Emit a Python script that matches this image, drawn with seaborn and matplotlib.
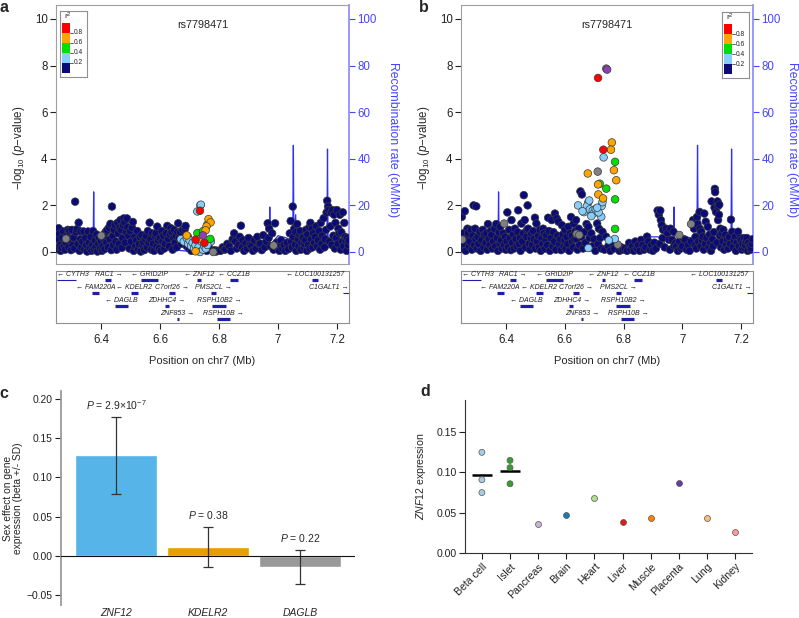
import numpy as np
import pandas as pd
import matplotlib
matplotlib.use("Agg")
import matplotlib.pyplot as plt
import seaborn as sns
from matplotlib.patches import Rectangle

sns.set_theme(style="white")
plt.rcParams['font.family'] = ['Liberation Sans', 'DejaVu Sans']
plt.rcParams['mathtext.fontset'] = 'custom'
plt.rcParams['mathtext.rm'] = 'Liberation Sans'
plt.rcParams['mathtext.it'] = 'Liberation Sans:italic'
plt.rcParams['mathtext.bf'] = 'Liberation Sans:bold'

# ---------------- data: locus zoom ----------------
lead_snp = "rs7798471"
ld_classes = ["navy", "gray", "lightblue", "green", "orange", "red", "index"]
ld_palette = {"navy": "#0B0B78", "gray": "#808080", "lightblue": "#87CEFA",
              "green": "#00E000", "orange": "#FFA500", "red": "#FF0000", "index": "#8E3FB8"}
r2_legend_colors = ["#FF0000", "#FFA500", "#00E000", "#87CEFA", "#0B0B78"]
r2_breaks = ["0.8", "0.6", "0.4", "0.2"]

a_navy = [(6.251,0.12),(6.253,0.55),(6.255,1.02),(6.257,0.78),(6.26,0.30),(6.262,0.05),(6.265,0.18),(6.268,0.62),
 (6.271,0.88),(6.274,0.25),(6.277,0.10),(6.280,0.40),(6.283,0.70),(6.286,0.95),(6.289,0.20),(6.292,0.92),(6.295,0.50),
 (6.297,0.08),(6.300,0.95),(6.303,0.30),(6.306,0.62),(6.309,0.15),(6.311,2.16),(6.314,0.85),(6.317,0.98),(6.320,0.35),
 (6.323,1.26),(6.326,0.05),(6.329,0.55),(6.330,0.88),(6.333,0.20),(6.336,0.45),(6.340,0.88),(6.343,0.12),(6.346,0.60),
 (6.349,0.30),(6.352,0.02),(6.355,0.88),(6.358,0.40),(6.361,0.15),(6.364,0.65),(6.367,0.05),(6.370,0.30),(6.372,0.90),
 (6.375,0.12),(6.378,0.50),(6.381,0.22),(6.384,0.75),(6.387,0.02),(6.390,0.35),(6.393,0.60),(6.396,0.15),(6.399,0.45),
 (6.402,0.05),(6.405,0.25),(6.408,0.60),(6.411,0.12),(6.414,0.85),(6.417,0.40),(6.420,0.95),(6.423,0.20),(6.426,1.05),
 (6.429,0.55),(6.431,1.21),(6.434,0.08),(6.436,1.95),(6.439,0.70),(6.441,0.30),(6.443,0.95),(6.446,1.16),(6.449,0.45),
 (6.452,0.10),(6.455,1.25),(6.457,0.80),(6.460,0.35),(6.462,1.05),(6.465,1.37),(6.468,0.95),(6.470,0.18),(6.472,0.60),
 (6.474,1.15),(6.476,1.44),(6.479,1.26),(6.481,0.40),(6.484,0.85),(6.487,1.44),(6.489,1.06),(6.492,0.70),(6.495,0.15),
 (6.498,0.90),(6.501,0.45),(6.504,1.05),(6.507,1.29),(6.510,0.05),(6.513,0.65),(6.516,0.25),(6.519,0.50),(6.522,0.90),
 (6.525,0.12),(6.528,0.35),(6.531,0.65),(6.534,0.02),(6.537,0.73),(6.540,0.30),(6.543,0.43),(6.546,0.08),(6.549,0.55),
 (6.552,0.69),(6.555,0.20),(6.558,0.90),(6.561,0.40),(6.564,1.26),(6.567,0.55),(6.570,0.10),(6.573,0.80),(6.576,0.35),
 (6.579,0.05),(6.582,0.70),(6.585,0.80),(6.588,0.25),(6.590,1.09),(6.593,0.50),(6.596,0.15),(6.599,0.60),(6.602,0.05),
 (6.605,0.90),(6.608,0.45),(6.611,0.70),(6.614,0.15),(6.617,0.35),(6.620,0.80),(6.624,1.12),(6.627,0.55),(6.630,0.25),
 (6.633,0.75),(6.636,1.02),(6.639,0.85),(6.642,0.10),(6.645,0.60),(6.647,0.95),(6.650,0.40),(6.653,0.70),(6.656,0.20),
 (6.659,0.85),(6.661,1.23),(6.664,0.60),(6.668,0.85),(6.672,0.35),(6.676,0.95),(6.680,0.50),(6.684,1.00),(6.686,1.12),
 (6.690,0.25),(6.694,0.65),(6.698,0.15),(6.702,0.40),(6.706,0.05),(6.712,0.30),(6.718,0.10),(6.728,0.12),(6.742,0.25),
 (6.758,0.05),(6.765,0.20),(6.785,0.08),(6.790,0.02),(6.795,0.05),(6.805,0.05),(6.812,0.20),(6.818,0.10),(6.822,0.12),
 (6.828,0.35),(6.834,0.24),(6.840,0.05),(6.846,0.55),(6.851,0.80),(6.855,0.45),(6.860,0.15),(6.866,0.30),(6.870,0.65),
 (6.874,1.13),(6.878,0.20),(6.880,0.50),(6.885,0.05),(6.890,0.37),(6.895,0.15),(6.900,0.60),(6.905,0.30),(6.910,0.25),
 (6.915,0.05),(6.920,0.50),(6.925,0.15),(6.930,0.65),(6.935,0.35),(6.940,0.36),(6.945,0.08),(6.950,0.72),(6.955,0.20),
 (6.960,0.45),(6.965,1.23),(6.968,0.60),(6.970,1.00),(6.975,0.25),(6.980,0.80),(6.985,0.10),(6.990,1.23),(6.995,0.40),
 (7.000,0.20),(7.005,0.05),(7.010,0.50),(7.015,0.15),(7.020,0.30),(7.025,0.05),(7.030,0.40),(7.035,0.12),(7.040,0.80),
 (7.043,1.33),(7.045,0.45),(7.048,0.20),(7.050,1.95),(7.052,0.65),(7.055,1.00),(7.058,0.30),(7.060,0.85),(7.062,0.05),
 (7.065,1.20),(7.068,0.55),(7.070,0.25),(7.073,0.75),(7.075,0.90),(7.078,0.10),(7.080,0.40),(7.083,0.65),(7.085,0.60),
 (7.088,0.20),(7.090,0.35),(7.093,0.50),(7.095,0.95),(7.098,0.05),(7.100,0.75),(7.103,0.30),(7.106,1.05),(7.108,0.15),
 (7.110,1.25),(7.113,0.55),(7.115,1.00),(7.118,0.20),(7.120,0.80),(7.123,0.40),(7.126,0.65),(7.130,1.10),(7.133,0.25),
 (7.136,0.50),(7.140,0.90),(7.143,0.10),(7.145,1.25),(7.148,0.35),(7.150,0.70),(7.155,1.45),(7.158,0.20),(7.160,0.55),
 (7.163,0.95),(7.165,1.70),(7.167,2.20),(7.170,1.95),(7.172,1.80),(7.175,0.45),(7.178,1.10),(7.180,1.70),(7.183,0.30),
 (7.185,1.80),(7.188,0.70),(7.190,1.60),(7.193,0.15),(7.195,1.25),(7.198,0.60),(7.200,1.80),(7.203,0.35),(7.205,1.00),
 (7.208,0.80),(7.210,1.60),(7.213,0.10),(7.215,0.85),(7.218,0.45),(7.220,1.70),(7.223,0.25),(7.225,1.25),(7.228,0.65),
 (7.230,0.50),(7.233,0.05),(7.235,0.60),(7.238,0.30),(7.240,0.50)]
a_gray = [(6.280,0.57),(6.400,0.70),(6.780,0.00),(6.985,0.28)]
a_lightblue = [(6.736,2.00),(6.738,2.03),(6.726,1.74),(6.670,0.55),(6.680,0.45),(6.690,0.60),(6.695,0.35),(6.700,0.50),
 (6.705,0.25),(6.710,0.40),(6.715,0.15),(6.720,0.30),(6.725,0.05),(6.730,0.20),(6.735,0.00),(6.740,0.45),(6.745,0.10),
 (6.750,0.25),(6.755,0.15),(6.772,0.45),(6.760,0.30)]
a_green = [(6.760,1.18),(6.726,0.81),(6.745,0.89),(6.770,0.56)]
a_orange = [(6.764,1.41),(6.771,1.27),(6.757,1.10),(6.754,0.93),(6.720,0.03),(6.735,0.56),(6.690,0.71)]
a_red = [(6.735,1.77),(6.720,0.53),(6.750,0.39)]
a_index = [(6.745,0.71)]

b_navy = [(6.249,1.51),(6.251,0.15),(6.254,0.80),(6.256,0.35),(6.259,1.75),(6.262,0.05),(6.265,0.60),(6.268,1.00),
 (6.270,0.80),(6.273,0.25),(6.276,0.45),(6.280,0.95),(6.283,0.10),(6.286,0.70),(6.289,2.00),(6.291,0.30),(6.294,1.00),
 (6.296,0.55),(6.298,1.96),(6.300,0.15),(6.303,0.65),(6.306,0.35),(6.310,0.87),(6.313,0.05),(6.316,0.50),(6.320,0.95),
 (6.323,0.20),(6.326,0.75),(6.330,0.40),(6.333,0.80),(6.336,0.10),(6.338,1.20),(6.341,0.55),(6.344,0.30),(6.347,0.90),
 (6.350,0.73),(6.353,0.15),(6.356,0.45),(6.360,1.00),(6.363,0.25),(6.366,1.20),(6.369,0.60),(6.372,0.05),(6.375,0.85),
 (6.378,0.35),(6.380,1.08),(6.383,0.50),(6.386,0.15),(6.390,0.80),(6.393,0.30),(6.396,0.65),(6.399,0.10),(6.402,0.45),
 (6.404,1.70),(6.407,0.20),(6.410,0.95),(6.413,0.60),(6.416,0.08),(6.418,1.37),(6.421,0.40),(6.424,0.75),(6.427,0.15),
 (6.430,1.00),(6.433,0.55),(6.436,0.25),(6.439,0.85),(6.441,1.79),(6.444,0.35),(6.447,0.60),(6.449,0.05),(6.452,1.22),
 (6.455,0.45),(6.458,0.80),(6.460,2.44),(6.463,1.37),(6.466,0.20),(6.469,0.65),(6.471,0.95),(6.473,2.00),(6.475,1.00),
 (6.478,0.35),(6.481,0.10),(6.484,0.60),(6.486,0.80),(6.489,0.30),(6.492,0.90),(6.495,0.55),(6.498,1.47),(6.500,0.15),
 (6.503,1.22),(6.506,0.45),(6.509,0.70),(6.512,0.20),(6.515,0.95),(6.518,0.05),(6.521,0.60),(6.524,0.35),(6.526,1.00),
 (6.529,0.80),(6.532,0.15),(6.535,0.50),(6.537,0.73),(6.540,0.30),(6.543,1.47),(6.546,0.90),(6.549,0.05),(6.552,0.60),
 (6.555,1.37),(6.558,0.25),(6.561,0.85),(6.564,0.45),(6.566,1.65),(6.569,0.10),(6.572,1.44),(6.575,0.70),(6.578,1.30),
 (6.581,0.35),(6.584,0.55),(6.587,0.08),(6.590,1.15),(6.593,0.75),(6.596,0.25),(6.599,0.50),(6.600,0.95),(6.603,0.15),
 (6.606,0.65),(6.609,0.35),(6.612,1.08),(6.615,0.05),(6.618,0.80),(6.621,1.50),(6.624,0.45),(6.625,0.70),(6.628,0.20),
 (6.630,1.22),(6.633,0.55),(6.636,0.90),(6.638,1.37),(6.640,0.56),(6.643,0.10),(6.647,1.00),(6.650,0.30),(6.653,2.60),
 (6.656,0.65),(6.658,2.47),(6.662,0.15),(6.666,0.85),(6.670,0.40),(6.674,1.20),(6.680,1.08),(6.684,0.60),(6.690,0.80),
 (6.694,0.25),(6.700,0.55),(6.704,0.05),(6.710,1.22),(6.713,0.35),(6.716,1.00),(6.720,0.60),(6.724,0.15),(6.728,0.87),
 (6.735,0.10),(6.740,0.66),(6.748,0.25),(6.755,0.05),(6.762,0.40),(6.768,0.15),(6.786,0.05),(6.792,0.20),(6.798,0.10),
 (6.805,0.15),(6.812,0.05),(6.819,0.39),(6.824,0.10),(6.830,0.25),(6.835,0.05),(6.840,0.45),(6.845,0.15),(6.850,0.30),
 (6.855,0.05),(6.860,0.52),(6.865,0.30),(6.870,0.10),(6.875,0.20),(6.880,0.66),(6.885,0.45),(6.890,0.10),(6.895,0.30),
 (6.900,0.05),(6.905,0.40),(6.910,0.15),(6.916,1.78),(6.920,1.60),(6.923,0.35),(6.925,1.78),(6.927,1.37),(6.930,1.15),
 (6.933,0.60),(6.935,0.95),(6.940,0.20),(6.945,1.00),(6.950,0.80),(6.955,0.52),(6.958,0.10),(6.960,1.00),(6.965,0.52),
 (6.970,0.87),(6.972,0.25),(6.977,0.39),(6.980,0.25),(6.985,0.05),(6.990,0.45),(6.995,0.15),(7.000,0.25),(7.005,0.55),
 (7.010,0.52),(7.015,0.10),(7.020,0.30),(7.025,0.05),(7.030,0.45),(7.037,1.37),(7.040,1.00),(7.043,0.30),(7.045,0.65),
 (7.048,0.15),(7.050,1.50),(7.052,1.20),(7.055,0.45),(7.059,1.72),(7.060,1.00),(7.063,0.25),(7.065,0.87),(7.068,0.50),
 (7.070,0.66),(7.073,0.10),(7.075,1.65),(7.078,0.35),(7.080,1.30),(7.083,0.60),(7.087,1.08),(7.090,0.20),(7.093,0.75),
 (7.096,0.40),(7.098,0.05),(7.100,2.17),(7.103,0.55),(7.105,0.25),(7.108,0.85),(7.110,1.90),(7.111,2.71),(7.112,2.57),
 (7.115,1.72),(7.118,0.40),(7.120,2.17),(7.121,1.96),(7.122,1.37),(7.125,1.60),(7.126,2.03),(7.128,0.70),(7.130,1.00),
 (7.132,0.20),(7.135,0.80),(7.138,0.45),(7.140,0.95),(7.143,0.10),(7.147,0.73),(7.150,0.30),(7.153,0.55),(7.156,0.15),
 (7.160,0.65),(7.163,0.35),(7.166,1.39),(7.170,0.87),(7.173,0.20),(7.176,0.50),(7.180,0.66),(7.183,0.05),(7.186,0.40),
 (7.190,0.87),(7.193,0.25),(7.196,0.60),(7.200,0.52),(7.203,0.10),(7.206,0.35),(7.210,0.60),(7.213,0.15),(7.215,0.30),
 (7.218,0.45),(7.220,0.60),(7.223,0.05),(7.226,0.40),(7.230,0.25),(7.233,0.10),(7.235,0.18),(7.238,0.35),(7.240,0.55)]
b_gray = [(6.741,7.87),(6.712,3.45),(6.780,0.32),(6.640,0.78),(6.250,0.53),(6.393,1.22),(6.990,0.73),(7.030,1.20),(6.649,0.73)]
b_lightblue = [(6.645,2.00),(6.680,2.14),(6.675,1.97),(6.665,1.71),(6.685,1.83),(6.695,1.78),(6.700,1.68),(6.690,1.54),
 (6.725,1.97),(6.728,2.14),(6.724,1.51),(6.683,2.21),(6.732,4.06),(6.770,0.56),(6.750,0.50),(6.680,0.17),(6.660,1.75),
 (6.705,1.85),(6.715,1.70),(6.710,1.90)]
b_green = [(6.771,3.87),(6.719,2.93),(6.741,2.72),(6.771,2.26),(6.771,0.99)]
b_orange = [(6.760,4.70),(6.757,4.39),(6.767,3.51),(6.678,3.37),(6.775,3.08),(6.713,2.90),(6.714,2.47),(6.730,2.30)]
b_red = [(6.713,7.47),(6.731,4.39)]
b_index = [(6.744,7.83)]

recomb_pos = [6.244, 6.26, 6.28, 6.30, 6.303, 6.306, 6.31, 6.325, 6.328, 6.331, 6.35, 6.372, 6.374, 6.376, 6.40,
              6.44, 6.47, 6.50, 6.53, 6.56, 6.60, 6.64, 6.68, 6.72, 6.76, 6.80, 6.84, 6.87, 6.93, 6.95, 6.97, 6.972,
              6.974, 7.00, 7.03, 7.045, 7.05, 7.052, 7.054, 7.06, 7.062, 7.09, 7.12, 7.14, 7.16, 7.166, 7.168, 7.17,
              7.19, 7.22, 7.241]
recomb_rate = [2, 3, 1, 2, 8, 2, 1, 2, 11, 1, 2, 1, 25.8, 2, 1, 2, 1, 2, 3, 1, 0.5, 1, 0.5, 0.3, 0.5, 0.8, 2, 6.5,
               6.5, 1, 2, 19.3, 3, 7, 6, 4, 7, 45.8, 6, 16, 5, 3, 5, 3, 2, 4, 44.2, 2, 3, 2, 1]

gene_names = ["CYTH3", "RAC1", "GRID2IP", "ZNF12", "CCZ1B", "LOC100131257", "FAM220A", "KDELR2", "C7orf26",
              "PMS2CL", "C1GALT1", "DAGLB", "ZDHHC4", "RSPH10B2", "ZNF853", "RSPH10B"]
gene_start = [6.249, 6.414, 6.536, 6.726, 6.837, 7.114, 6.368, 6.501, 6.629, 6.773, 7.220, 6.448, 6.615, 6.775, 6.656, 6.792]
gene_end = [6.314, 6.433, 6.592, 6.737, 6.864, 7.137, 6.391, 6.524, 6.649, 6.791, 7.245, 6.490, 6.629, 6.823, 6.662, 6.837]
gene_strand = ["-", "+", "-", "-", "-", "-", "-", "-", "+", "+", "+", "-", "+", "+", "+", "+"]
gene_row = [0, 0, 0, 0, 0, 0, 1, 1, 1, 1, 1, 2, 2, 2, 3, 3]

pos_ticks = [6.4, 6.6, 6.8, 7.0, 7.2]
pos_ticklabels = ["6.4", "6.6", "6.8", "7", "7.2"]

# ---------------- data: panel c ----------------
c_genes = ["ZNF12", "KDELR2", "DAGLB"]
c_beta = [0.128, 0.011, -0.014]
c_sd = [0.049, 0.0255, 0.0215]
c_p = [r"$P$ = 2.9×10$^{-7}$", r"$P$ = 0.38", r"$P$ = 0.22"]
c_colors = ["#56B4E9", "#E69F00", "#999999"]

# ---------------- data: panel d ----------------
d_tissues = ["Beta cell", "Islet", "Pancreas", "Brain", "Heart", "Liver", "Muscle", "Placenta", "Lung", "Kidney"]
d_tissue_of_point = ["Beta cell", "Beta cell", "Beta cell", "Islet", "Islet", "Islet", "Pancreas", "Brain",
                     "Heart", "Liver", "Muscle", "Placenta", "Lung", "Kidney"]
d_values = [0.125, 0.091, 0.075, 0.115, 0.106, 0.086, 0.036, 0.047, 0.068, 0.038, 0.044, 0.087, 0.043, 0.026]
d_colors = ["#A6CEE3", "#33A02C", "#CAB2D6", "#1F78B4", "#B2DF8A", "#E31A1C", "#FF7F00", "#6A3D9A", "#FDBF6F", "#FB9A99"]

# ---------------- figure ----------------
W, H = 799, 618
fig = plt.figure(figsize=(W / 100, H / 100), dpi=100)


def add_px(x0, y0, x1, y1):
    return fig.add_axes([x0 / W, 1 - y1 / H, (x1 - x0) / W, (y1 - y0) / H])


XLIM = (6.246, 7.241)
YLIM = (-0.515, 10.6)
BLUE = "#4545FF"
gene_texts = []


def snp_frame(groups):
    rows = []
    for cls, pts in zip(ld_classes, groups):
        for p, v in pts:
            rows.append({"pos": p, "logp": v, "ld": cls})
    return pd.DataFrame(rows)


def locus_panel(x0, x1, groups, legend_xy, rlab_x):
    ax = add_px(x0, 5, x1, 264)
    ax2 = ax.twinx()
    ax.set_zorder(ax2.get_zorder() + 1)
    ax.patch.set_visible(False)
    ax2.plot(recomb_pos, recomb_rate, color="#2F2FFF", lw=0.9)
    ax2.set_ylim(YLIM[0] * 10, YLIM[1] * 10)
    ax2.set_yticks([0, 20, 40, 60, 80, 100])
    ax2.tick_params(axis="y", colors=BLUE, labelsize=8.3, length=4, width=0.8, pad=2, right=True, direction="out")
    for s in ["left", "top", "bottom"]:
        ax2.spines[s].set_visible(False)
    ax2.spines["right"].set_color("#8C8CFF")
    ax2.set_ylabel("Recombination rate (cM/Mb)", color=BLUE, fontsize=8.8, rotation=-90, va="bottom")
    ax2.yaxis.set_label_coords(rlab_x, 0.48)

    df = snp_frame(groups)
    sns.scatterplot(data=df, x="pos", y="logp", hue="ld", palette=ld_palette, hue_order=ld_classes,
                    s=30, edgecolor="#3A3A3A", linewidth=0.5, legend=False, ax=ax, zorder=3)
    ax.set_xlim(XLIM)
    ax2.set_xlim(XLIM)
    ax.set_ylim(YLIM)
    ax.set_yticks([0, 2, 4, 6, 8, 10])
    ax.set_xticks([])
    ax.set_xlabel("")
    ax.tick_params(axis="y", labelsize=8.3, length=4, width=0.8, left=True, colors="#222222", pad=2)
    for s in ["left", "top", "bottom"]:
        ax.spines[s].set_color("#A0A0A0")
        ax.spines[s].set_linewidth(0.8)
    ax.spines["right"].set_visible(False)
    ax.set_ylabel(r"$-$log$_{10}$ ($p$$-$value)", fontsize=8.3)
    ax.yaxis.set_label_coords(-0.099, 0.45)
    idx_pos = groups[-1][0][0]
    ax.text(idx_pos, 9.74, lead_snp, ha="center", va="center", fontsize=7.8)

    # r2 legend
    lx, ly = legend_xy
    lax = add_px(lx, ly, lx + 27, ly + 66)
    lax.set_xlim(0, 27)
    lax.set_ylim(66, 0)
    lax.set_xticks([])
    lax.set_yticks([])
    for s in lax.spines.values():
        s.set_color("#909090")
        s.set_linewidth(0.8)
    for i, c in enumerate(r2_legend_colors):
        lax.add_patch(Rectangle((1.5, 12 + 10 * i), 8, 10, fc=c, ec="none"))
    for i, lab in enumerate(r2_breaks):
        yy = 22 + 10 * i
        lax.plot([9.5, 12.5], [yy, yy], color="#444444", lw=0.6)
        lax.text(13.5, yy, lab, fontsize=4.8, va="center", ha="left", color="#222222")
    lax.text(8, 5.5, "r$^2$", fontsize=6, ha="center", va="center")

    # gene track
    g = add_px(x0, 271, x1, 323)
    g.set_xlim(XLIM)
    g.set_ylim(0, 52)
    bar_y = [43, 30, 17, 4]
    lab_y = [48.5, 35.5, 22, 9.5]
    for name, s, e, strand, row in zip(gene_names, gene_start, gene_end, gene_strand, gene_row):
        thick = (e - s) < 0.06 and e <= XLIM[1]
        g.plot([max(s, XLIM[0]), min(e, XLIM[1])], [bar_y[row], bar_y[row]], color="#1E1EA8",
               lw=2.3 if thick else 0.8, solid_capstyle="butt")
        label = "\u2190 " + name if strand == "-" else name + " \u2192"
        t = g.text((s + e) / 2, lab_y[row], label, ha="center", va="center", fontsize=5,
                   style="italic", color="#222222")
        gene_texts.append((g, t))
    g.set_yticks([])
    g.set_xticks(pos_ticks)
    g.set_xticklabels(pos_ticklabels)
    g.tick_params(axis="x", labelsize=8.3, length=4, width=0.8, bottom=True, colors="#222222", pad=4)
    for s in g.spines.values():
        s.set_color("#909090")
        s.set_linewidth(0.8)
    g.set_xlabel("Position on chr7 (Mb)", fontsize=8, labelpad=7)
    return ax


locus_panel(56, 349, [a_navy, a_gray, a_lightblue, a_green, a_orange, a_red, a_index], (60, 11), 1.13)
locus_panel(461, 753, [b_navy, b_gray, b_lightblue, b_green, b_orange, b_red, b_index], (722, 12), 1.113)

# ---------------- panel c ----------------
axc = add_px(61, 391, 355, 605)
sns.barplot(x=c_genes, y=c_beta, hue=c_genes, palette=c_colors, width=0.89, legend=False,
            saturation=1, errorbar=None, ax=axc, zorder=2)
axc.errorbar(x=np.arange(len(c_genes)), y=c_beta, yerr=c_sd, fmt="none", ecolor="#333333",
             elinewidth=0.9, capsize=3.5, capthick=0.9, zorder=3)
for i, (b, sd, p) in enumerate(zip(c_beta, c_sd, c_p)):
    axc.text(i, b + sd + 0.015, p, ha="center", va="center", fontsize=7.5)
axc.axhline(0, color="#111111", lw=0.8, zorder=4)
axc.set_xlim(-0.6, 2.6)
axc.set_ylim(-0.0625, 0.21)
axc.set_yticks([-0.05, 0.0, 0.05, 0.10, 0.15, 0.20])
axc.set_yticklabels(["\u22120.05", "0.00", "0.05", "0.10", "0.15", "0.20"])
for s in ["top", "right", "bottom"]:
    axc.spines[s].set_visible(False)
axc.spines["left"].set_color("#9A9A9A")
axc.spines["left"].set_linewidth(1.3)
axc.tick_params(axis="y", labelsize=7.4, length=4, width=0.8, left=True, colors="#222222", pad=2)
axc.tick_params(axis="x", labelsize=7.5, length=0, pad=2)
for lbl in axc.get_xticklabels():
    lbl.set_style("italic")
axc.set_ylabel("Sex effect on gene\nexpression (beta +/- SD)", fontsize=7.4, linespacing=1.0)
axc.yaxis.set_label_coords(-0.128, 0.5)

# ---------------- panel d ----------------
axd = add_px(465, 400, 752, 553)
df_d = pd.DataFrame({"tissue": d_tissue_of_point, "value": d_values})
means = df_d.groupby("tissue", sort=False)["value"].agg(["mean", "count"])
for i, t in enumerate(d_tissues):
    if t in means.index and means.loc[t, "count"] > 1:
        axd.hlines(means.loc[t, "mean"], i - 0.36, i + 0.36, color="black", lw=1.8, zorder=1)
sns.stripplot(data=df_d, x="tissue", y="value", hue="tissue", order=d_tissues, hue_order=d_tissues,
              palette=d_colors, jitter=False, size=4.3, linewidth=0.5, edgecolor="#555555",
              legend=False, ax=axd, zorder=3)
axd.set_xlim(-0.6, 9.6)
axd.set_ylim(0, 0.19)
axd.set_yticks([0.0, 0.05, 0.10, 0.15])
axd.set_yticklabels(["0.00", "0.05", "0.10", "0.15"])
for s in ["top", "right"]:
    axd.spines[s].set_visible(False)
for s in ["left", "bottom"]:
    axd.spines[s].set_color("#333333")
    axd.spines[s].set_linewidth(0.8)
axd.tick_params(axis="y", labelsize=7.6, length=4, width=0.8, left=True, colors="#222222", pad=2)
axd.tick_params(axis="x", labelsize=7.6, length=4, width=0.8, bottom=True, colors="#222222", pad=2)
plt.setp(axd.get_xticklabels(), rotation=45, ha="right", rotation_mode="anchor")
axd.set_xlabel("")
axd.set_ylabel(r"$\it{ZNF12}$ expression", fontsize=7.6)
axd.yaxis.set_label_coords(-0.129, 0.5)

# ---------------- panel letters ----------------
for letter, (px, py) in {"a": (4, 8), "b": (424, 8), "c": (4, 393), "d": (425, 392)}.items():
    fig.text(px / W, 1 - py / H, letter, fontsize=11.5, fontweight="bold", ha="center", va="center")

# keep gene labels inside the track (LocusZoom style)
fig.canvas.draw()
renderer = fig.canvas.get_renderer()
for g, t in gene_texts:
    bb = t.get_window_extent(renderer=renderer)
    left = g.transData.transform((XLIM[0], 0))[0] + 1
    right = g.transData.transform((XLIM[1], 0))[0] - 1
    shift = 0
    if bb.x0 < left:
        shift = left - bb.x0
    elif bb.x1 > right:
        shift = right - bb.x1
    if shift:
        x, y = t.get_position()
        xd = g.transData.inverted().transform((g.transData.transform((x, y))[0] + shift, 0))[0]
        t.set_x(xd)

fig.savefig("out.png", dpi=100)
